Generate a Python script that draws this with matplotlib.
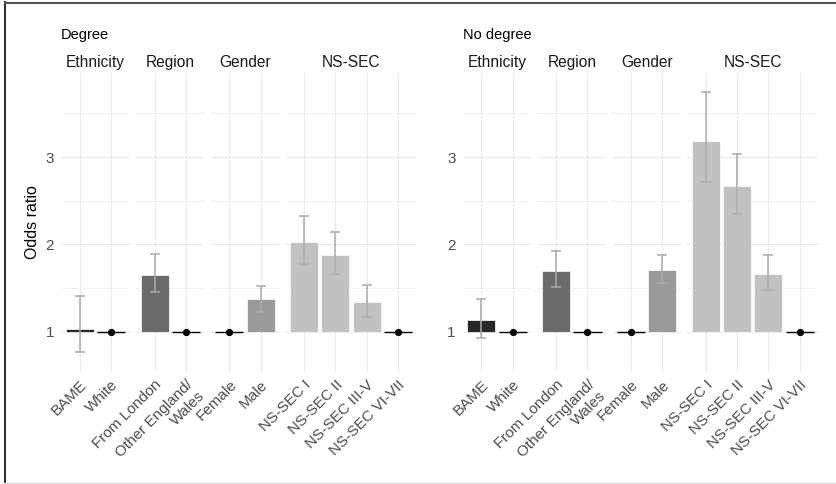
import numpy as np
import matplotlib.pyplot as plt
from matplotlib.lines import Line2D

plt.rcParams['font.family'] = ['Liberation Sans', 'DejaVu Sans']

# Data
panels = ['Degree', 'No degree']
groups = ['Ethnicity', 'Region', 'Gender', 'NS-SEC']
labels = [['BAME', 'White'],
          ['From London', 'Other England/\nWales'],
          ['Female', 'Male'],
          ['NS-SEC I', 'NS-SEC II', 'NS-SEC III-V', 'NS-SEC VI-VII']]
is_ref = [[False, True], [False, True], [True, False], [False, False, False, True]]

deg_or = [[1.03, 1.0], [1.65, 1.0], [1.0, 1.37], [2.03, 1.88, 1.34, 1.0]]
deg_lo = [[0.77, 1.0], [1.45, 1.0], [1.0, 1.23], [1.78, 1.66, 1.17, 1.0]]
deg_hi = [[1.41, 1.0], [1.89, 1.0], [1.0, 1.52], [2.33, 2.14, 1.53, 1.0]]

nodeg_or = [[1.13, 1.0], [1.70, 1.0], [1.0, 1.71], [3.18, 2.67, 1.66, 1.0]]
nodeg_lo = [[0.93, 1.0], [1.51, 1.0], [1.0, 1.56], [2.71, 2.35, 1.48, 1.0]]
nodeg_hi = [[1.37, 1.0], [1.92, 1.0], [1.0, 1.88], [3.74, 3.03, 1.88, 1.0]]

group_colors = ['#282828', '#6b6b6b', '#9a9a9a', '#c1c1c1']

# Layout (pixels)
W, H = 836, 484
fig = plt.figure(figsize=(W / 100, H / 100), dpi=100)
panel_x0 = [61, 462.7]
unit = 31.2
gap = 6.2
top, bottom = 73, 372
ylim = (0.538, 3.963)

def px_rect(x0, x1):
    return [x0 / W, 1 - bottom / H, (x1 - x0) / W, (bottom - top) / H]

for p, (title, ors, los, his) in enumerate(zip(panels,
                                               [deg_or, nodeg_or],
                                               [deg_lo, nodeg_lo],
                                               [deg_hi, nodeg_hi])):
    x = panel_x0[p]
    fig.text(x / W, 1 - 38.5 / H, title, ha='left', va='baseline',
             fontsize=10.5, color='black')
    for g, grp in enumerate(groups):
        n = len(labels[g])
        w = (n + 0.2) * unit
        ax = fig.add_axes(px_rect(x, x + w))
        fig.text((x + w / 2) / W, 1 - 67 / H, grp, ha='center', va='baseline',
                 fontsize=11.2, color='#1a1a1a')
        x += w + gap

        pos = np.arange(n)
        for i in range(n):
            if is_ref[g][i]:
                ax.plot([pos[i] - 0.45, pos[i] + 0.45], [1, 1], color='black',
                        lw=1.0, zorder=3, solid_capstyle='butt')
                ax.plot(pos[i], 1, 'o', color='black', ms=4.2, zorder=4)
            else:
                ax.bar(pos[i], ors[g][i] - 1, bottom=1, width=0.9,
                       color=group_colors[g], edgecolor='white', linewidth=0.5,
                       zorder=2)
                ax.errorbar(pos[i], ors[g][i],
                            yerr=[[ors[g][i] - los[g][i]], [his[g][i] - ors[g][i]]],
                            fmt='none', ecolor='#ababab', elinewidth=1.1,
                            capsize=3.8, capthick=1.1, zorder=3)

        ax.set_xlim(-0.6, n - 0.4)
        ax.set_ylim(*ylim)
        ax.set_xticks(pos)
        ax.set_xticklabels(labels[g], rotation=45, ha='right', va='top',
                           rotation_mode='anchor', multialignment='right',
                           fontsize=11, color='#4d4d4d')
        ax.set_yticks([1, 2, 3])
        ax.set_yticks([1.5, 2.5, 3.5], minor=True)
        if g == 0:
            ax.set_yticklabels(['1', '2', '3'], fontsize=11, color='#4d4d4d')
        else:
            ax.set_yticklabels([])
        ax.tick_params(axis='both', which='both', length=0)
        ax.tick_params(axis='x', pad=4)
        ax.tick_params(axis='y', pad=5)
        ax.grid(True, which='major', color='#ebebeb', lw=0.9)
        ax.grid(True, which='minor', axis='y', color='#ebebeb', lw=0.5)
        ax.set_axisbelow(True)
        for s in ax.spines.values():
            s.set_visible(False)
        ax.patch.set_alpha(0)
        if p == 0 and g == 0:
            ax.set_ylabel('Odds ratio', fontsize=11.5, color='black', labelpad=4)

# outer frame
fig.add_artist(Line2D([4.5 / W, 4.5 / W], [1 - 482 / H, 1 - 2 / H], color='#333333', lw=1.5))
fig.add_artist(Line2D([4.5 / W, 1], [1 - 2.5 / H, 1 - 2.5 / H], color='#555555', lw=1.5))
fig.add_artist(Line2D([4.5 / W, 1], [1 - 482.5 / H, 1 - 482.5 / H], color='#dddddd', lw=1.0))

fig.savefig('out.png', dpi=100)
